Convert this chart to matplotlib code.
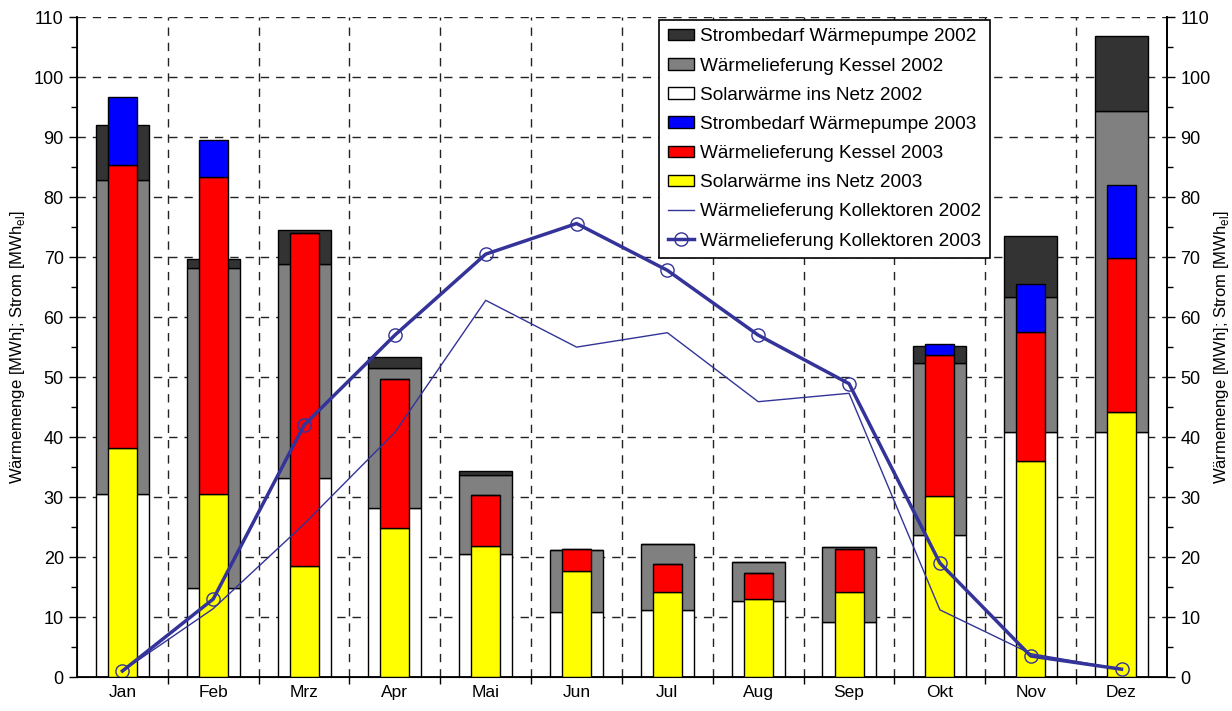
import matplotlib
matplotlib.use("Agg")
import matplotlib.pyplot as plt
import numpy as np
from matplotlib.patches import Patch
from matplotlib.lines import Line2D

plt.rcParams['font.family'] = ['Liberation Sans', 'DejaVu Sans']
plt.rcParams['mathtext.fontset'] = 'custom'
plt.rcParams['mathtext.rm'] = 'Liberation Sans'

monate = ['Jan', 'Feb', 'Mrz', 'Apr', 'Mai', 'Jun', 'Jul', 'Aug', 'Sep', 'Okt', 'Nov', 'Dez']

# 2002 (breite Balken)
solar_2002 = [30.5, 14.8, 33.1, 28.2, 20.5, 10.9, 11.2, 12.6, 9.1, 23.7, 40.9, 40.9]
kessel_2002 = [52.3, 53.4, 35.7, 23.3, 13.1, 10.2, 10.9, 6.5, 12.5, 28.7, 22.5, 53.5]
strom_2002 = [9.3, 1.5, 5.8, 1.8, 0.7, 0.0, 0.0, 0.0, 0.0, 2.8, 10.1, 12.5]

# 2003 (schmale Balken)
solar_2003 = [38.1, 30.5, 18.5, 24.9, 21.8, 17.6, 14.2, 13.0, 14.1, 30.2, 36.0, 44.2]
kessel_2003 = [47.2, 52.8, 55.5, 24.8, 8.5, 3.7, 4.7, 4.4, 7.2, 23.5, 21.5, 25.7]
strom_2003 = [11.4, 6.3, 0.0, 0.0, 0.0, 0.0, 0.0, 0.0, 0.0, 1.8, 8.1, 12.2]

# Wärmelieferung Kollektoren
koll_2002 = [1.0, 11.4, 25.5, 40.8, 62.8, 55.0, 57.4, 45.9, 47.3, 11.2, 3.9, 1.3]
koll_2003 = [1.0, 13.0, 42.0, 57.0, 70.5, 75.6, 67.8, 57.0, 48.9, 19.0, 3.5, 1.3]

x = np.arange(len(monate))
s02 = np.array(solar_2002)
k02 = np.array(kessel_2002)
s03 = np.array(solar_2003)
k03 = np.array(kessel_2003)

fig = plt.figure(figsize=(12.32, 7.11), dpi=100)
ax = fig.add_axes([0.0625, 0.0478, 0.8847, 0.928])

w_breit = 0.585
w_schmal = 0.32
ec = 'black'
lw = 1.0

ax.bar(x, solar_2002, w_breit, color='white', edgecolor=ec, linewidth=lw, zorder=2)
ax.bar(x, kessel_2002, w_breit, bottom=s02, color='#808080', edgecolor=ec, linewidth=lw, zorder=2)
ax.bar(x, strom_2002, w_breit, bottom=s02 + k02, color='#333333', edgecolor=ec, linewidth=lw, zorder=2)

ax.bar(x, solar_2003, w_schmal, color='#ffff00', edgecolor=ec, linewidth=lw, zorder=3)
ax.bar(x, kessel_2003, w_schmal, bottom=s03, color='#ff0000', edgecolor=ec, linewidth=lw, zorder=3)
ax.bar(x, strom_2003, w_schmal, bottom=s03 + k03, color='#0000ff', edgecolor=ec, linewidth=lw, zorder=3)

linie = '#333399'
ax.plot(x, koll_2002, color=linie, linewidth=1.0, zorder=4)
ax.plot(x, koll_2003, color=linie, linewidth=2.5, marker='o', markersize=9.5,
        markerfacecolor='none', markeredgecolor=linie, markeredgewidth=1.0, zorder=5)

ax.set_xlim(-0.5, 11.5)
ax.set_ylim(0, 110)

# Gitter
for xb in np.arange(0.5, 11.5, 1.0):
    ax.axvline(xb, color='#222222', linestyle=(0, (6, 5)), linewidth=1.0, zorder=1)
for yb in range(10, 111, 10):
    ax.axhline(yb, color='#222222', linestyle=(0, (6, 5)), linewidth=1.0, zorder=1)

ax.set_xticks(np.arange(0.5, 11.5, 1.0))
ax.set_xticklabels([])
ax.set_xticks(x, minor=True)
ax.set_xticklabels(monate, minor=True, fontsize=12.5)
ax.tick_params(axis='x', which='major', direction='out', length=5, width=1)
ax.tick_params(axis='x', which='minor', length=0, pad=6)

ax.set_yticks(range(0, 111, 10))
ax.set_yticks(range(5, 110, 10), minor=True)
ax.tick_params(axis='y', which='major', direction='out', length=6, width=1, labelsize=13)
ax.tick_params(axis='y', which='minor', direction='out', length=4, width=1)

for sp in ['left', 'right', 'bottom']:
    ax.spines[sp].set_linewidth(1.3)
ax.spines['top'].set_visible(False)

ylabel = r'Wärmemenge [MWh]; Strom [MWh$_{\rm el}$]'
ax.set_ylabel(ylabel, fontsize=12, labelpad=5)

ax2 = ax.twinx()
ax2.set_ylim(0, 110)
ax2.set_yticks(range(0, 111, 10))
ax2.set_yticks(range(5, 110, 10), minor=True)
ax2.tick_params(axis='y', which='major', direction='out', length=6, width=1, labelsize=13)
ax2.tick_params(axis='y', which='minor', direction='out', length=4, width=1)
ax2.spines['top'].set_visible(False)
ax2.spines['right'].set_linewidth(1.3)
ax2.set_ylabel(ylabel, fontsize=12, labelpad=1)
ax2.yaxis.set_label_position('right')

handles = [
    Patch(facecolor='#333333', edgecolor=ec, label='Strombedarf Wärmepumpe 2002'),
    Patch(facecolor='#808080', edgecolor=ec, label='Wärmelieferung Kessel 2002'),
    Patch(facecolor='white', edgecolor=ec, label='Solarwärme ins Netz 2002'),
    Patch(facecolor='#0000ff', edgecolor=ec, label='Strombedarf Wärmepumpe 2003'),
    Patch(facecolor='#ff0000', edgecolor=ec, label='Wärmelieferung Kessel 2003'),
    Patch(facecolor='#ffff00', edgecolor=ec, label='Solarwärme ins Netz 2003'),
    Line2D([], [], color=linie, linewidth=1.0, label='Wärmelieferung Kollektoren 2002'),
    Line2D([], [], color=linie, linewidth=2.5, marker='o', markersize=9.5,
           markerfacecolor='none', markeredgewidth=1.0, label='Wärmelieferung Kollektoren 2003'),
]
leg = ax2.legend(handles=handles, loc='upper left', bbox_to_anchor=(0.534, 0.996),
                 borderaxespad=0, fontsize=13.7, frameon=True, fancybox=False,
                 framealpha=1, edgecolor='black', labelspacing=0.64,
                 handlelength=1.4, handleheight=0.55, handletextpad=0.3,
                 borderpad=0.45)
leg.get_frame().set_linewidth(1.2)
leg.set_zorder(10)

fig.savefig('out.png', dpi=100)
